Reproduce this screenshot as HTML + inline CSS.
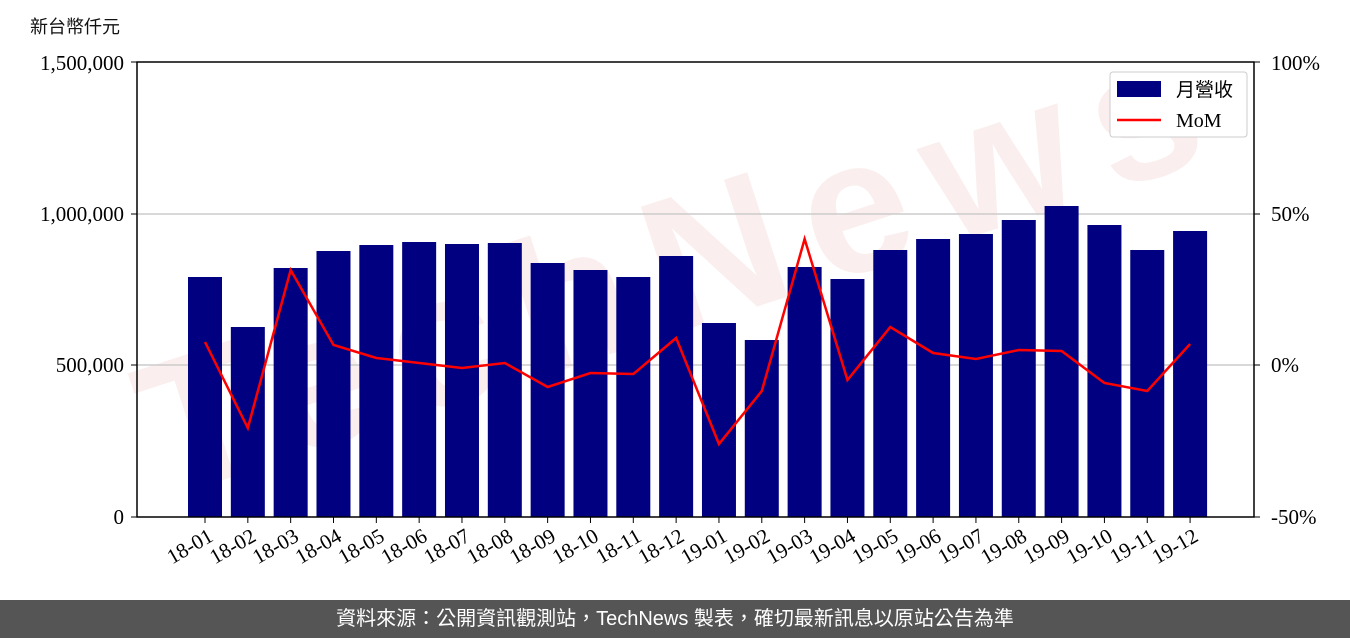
<!DOCTYPE html>
<html><head><meta charset="utf-8"><style>
body{margin:0;width:1350px;height:638px;background:#fff;overflow:hidden;position:relative;font-family:"Liberation Serif","Noto Serif CJK SC",serif}
.foot{position:absolute;left:0;top:600px;width:1350px;height:38px;background:#555;color:#fff;font:20px "Liberation Sans","Noto Sans CJK TC",sans-serif;text-align:center;line-height:38px}
</style></head><body>
<svg width="1350" height="600" style="position:absolute;left:0;top:0" font-family="Liberation Serif, Noto Serif CJK TC, serif">
<text x="30" y="33" font-size="18" font-family="Noto Sans CJK TC, sans-serif" fill="#111">新台幣仟元</text>
<text x="680" y="330" font-size="190" font-weight="bold" fill="#f6dada" opacity="0.45" text-anchor="middle" transform="rotate(-18 680 300)" font-family="Liberation Sans, sans-serif" textLength="1100">TechNews</text>
<line x1="137" y1="214" x2="1254" y2="214" stroke="#ccc" stroke-width="1.5"/>
<line x1="137" y1="365" x2="1254" y2="365" stroke="#ccc" stroke-width="1.5"/>
<g id="bars" fill="#000080"></g>
<polyline id="ln" fill="none" stroke="#f00" stroke-width="2.5"/>
<rect x="137" y="62" width="1117" height="455" fill="none" stroke="#000" stroke-width="1.5"/>
<g font-size="21" fill="#000" text-anchor="end">
<text x="124" y="70">1,500,000</text><text x="124" y="221">1,000,000</text><text x="124" y="372">500,000</text><text x="124" y="524">0</text>
</g>
<g stroke="#000"><line x1="131" y1="62" x2="137" y2="62"/><line x1="131" y1="214" x2="137" y2="214"/><line x1="131" y1="365" x2="137" y2="365"/><line x1="131" y1="517" x2="137" y2="517"/>
<line x1="1254" y1="62" x2="1260" y2="62"/><line x1="1254" y1="214" x2="1260" y2="214"/><line x1="1254" y1="365" x2="1260" y2="365"/><line x1="1254" y1="517" x2="1260" y2="517"/></g>
<g font-size="21" fill="#000">
<text x="1271" y="70">100%</text><text x="1271" y="221">50%</text><text x="1271" y="372">0%</text><text x="1271" y="524">-50%</text>
</g>
<g id="xl" font-size="21" fill="#000" text-anchor="end"></g>
<rect x="1110" y="72" width="137" height="65" fill="#fff" stroke="#ccc" rx="3"/>
<rect x="1117" y="81" width="44" height="16" fill="#000080"/>
<text x="1176" y="96" font-size="19" font-family="Noto Sans CJK TC, sans-serif">月營收</text>
<line x1="1117" y1="120" x2="1161" y2="120" stroke="#f00" stroke-width="2.5"/>
<text x="1176" y="127" font-size="20">MoM</text>
</svg>
<div class="foot">資料來源：公開資訊觀測站，TechNews 製表，確切最新訊息以原站公告為準</div>
<script>
var tops=[277,327,268,251,245,242,244,243,263,270,277,256,323,340,267,279,250,239,234,220,206,225,250,231];
var ly=[342,428,270,345,358,363,368,363,387,373,374,338,444,391,239,380,327,353,359,350,351,383,391,344];
var lab=[];for(var y of ["18","19"])for(var m=1;m<=12;m++)lab.push(y+"-"+(m<10?"0":"")+m);
var b="",x="",p=[];
for(var i=0;i<24;i++){var c=205+i*42.83;
b+='<rect x="'+(c-17)+'" y="'+tops[i]+'" width="34" height="'+(517-tops[i])+'"/>';
x+='<line x1="'+c+'" y1="517" x2="'+c+'" y2="523" stroke="#000"/><text transform="translate('+(c+2)+',527) rotate(-30)" y="15">'+lab[i]+'</text>';
p.push(c+","+ly[i]);}
document.getElementById("bars").innerHTML=b;document.getElementById("xl").innerHTML=x;
document.getElementById("ln").setAttribute("points",p.join(" "));
</script>
</body></html>
